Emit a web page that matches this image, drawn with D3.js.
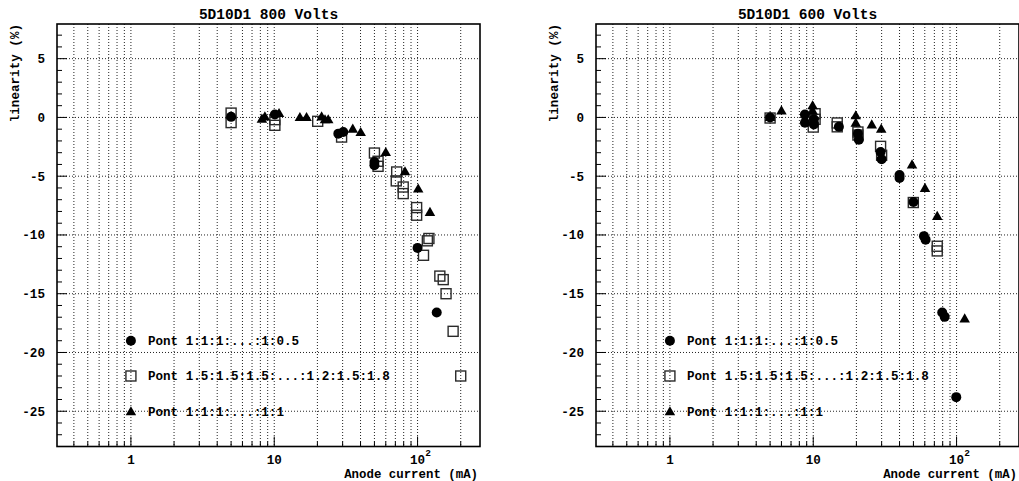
<!DOCTYPE html>
<html><head><meta charset="utf-8">
<script src="https://cdn.jsdelivr.net/npm/d3@7"></script>
<style>
body{margin:0;background:#fff;}
text{font-family:"Liberation Mono","DejaVu Sans Mono",monospace;font-weight:bold;fill:#000;}
</style></head>
<body><svg id="c" width="1019" height="481"></svg>
<script>
// ---- data ----
const seriesNames = ["Pont 1:1:1:...:1:0.5", "Pont 1.5:1.5:1.5:...:1.2:1.5:1.8", "Pont 1:1:1:...:1:1"];
const titles = ["5D10D1 800 Volts", "5D10D1 600 Volts"];
const yTicks = [5, 0, -5, -10, -15, -20, -25];
const xMajorTicks = [1, 10, 100];
const xMinorTicks = [0.4,0.5,0.6,0.7,0.8,0.9,2,3,4,5,6,7,8,9,20,30,40,50,60,70,80,90,200];
const legendY = [-19, -22, -25];
const legendX = 1;

// 800 V
const v800_circle_x = [5.0, 10.1, 28, 30.3, 50, 50, 100, 136];
const v800_circle_y = [0.05, 0.25, -1.38, -1.24, -3.8, -4.07, -11.1, -16.6];
const v800_square_x = [5.0, 5.0, 10.1, 10.1, 20.1, 29.5, 50, 53, 53, 71.5, 71, 79.4, 79.4, 98.5, 98.5, 120, 117, 110, 143, 151, 158, 177, 200];
const v800_square_y = [0.37, -0.44, -0.19, -0.67, -0.33, -1.67, -3.03, -3.73, -4.16, -4.64, -5.4, -5.92, -6.48, -7.67, -8.32, -10.3, -10.5, -11.73, -13.5, -13.8, -15.0, -18.2, -22.0];
const v800_tri_x = [8.2, 8.6, 10.8, 15.1, 16.8, 21.4, 22.6, 23.8, 35.3, 40.1, 60, 81.7, 101, 122];
const v800_tri_y = [-0.1, 0.09, 0.37, 0.04, 0.04, 0.09, -0.16, -0.16, -0.95, -1.24, -2.94, -4.58, -6.05, -8.04];

// 600 V
const v600_circle_x = [5.0, 8.75, 8.75, 10.1, 10.1, 15.1, 20.5, 20.8, 29.5, 30, 40, 40, 50, 59.2, 60.8, 79.4, 82.6, 99.5];
const v600_circle_y = [0.0, 0.24, -0.45, -0.16, -0.6, -0.8, -1.38, -1.9, -2.94, -3.56, -4.9, -5.15, -7.2, -10.1, -10.4, -16.6, -16.97, -23.8];
const v600_square_x = [5.0, 10.3, 10.3, 10.0, 14.7, 14.7, 20.5, 20.5, 29.5, 30, 49.9, 73.3, 73.3];
const v600_square_y = [-0.05, 0.32, -0.16, -0.82, -0.47, -0.8, -1.24, -1.5, -2.46, -3.22, -7.24, -10.96, -11.36];
const v600_tri_x = [5.0, 6.0, 9.9, 9.9, 19.8, 19.8, 25.6, 29.8, 48.9, 60.2, 73.3, 113.9];
const v600_tri_y = [0.05, 0.6, 1.03, 0.6, 0.18, -0.44, -0.59, -0.95, -4.0, -6.0, -8.38, -17.1];

const panelsData = [
  {title: titles[0], circle: [v800_circle_x, v800_circle_y], square: [v800_square_x, v800_square_y], tri: [v800_tri_x, v800_tri_y]},
  {title: titles[1], circle: [v600_circle_x, v600_circle_y], square: [v600_square_x, v600_square_y], tri: [v600_tri_x, v600_tri_y]}
];

// ---- layout ----
const svg = d3.select("#c");
const topY = 24, bottomY = 446.5;
const lefts = [57, 596], width = 423;
const fs = 12.6;

const zip = (xs, ys) => xs.map((x, i) => [x, ys[i]]);

panelsData.forEach((p, pi) => {
  const L = lefts[pi], R = L + width;
  const x = d3.scaleLog().domain([0.305, 272.6]).range([L, R]);
  const y = d3.scaleLinear().domain([-28, 7.95]).range([bottomY, topY]);
  const g = svg.append("g");

  // grid
  const allX = xMinorTicks.concat(xMajorTicks);
  g.append("g").selectAll("line").data(allX).join("line")
    .attr("x1", d => x(d)).attr("x2", d => x(d)).attr("y1", topY).attr("y2", bottomY)
    .attr("stroke", "#222").attr("stroke-width", 1).attr("stroke-dasharray", "1,2");
  g.append("g").selectAll("line").data(yTicks).join("line")
    .attr("x1", L).attr("x2", R).attr("y1", d => y(d)).attr("y2", d => y(d))
    .attr("stroke", "#222").attr("stroke-width", 1).attr("stroke-dasharray", "1,2");

  // x ticks (inward)
  g.append("g").selectAll("line").data(xMinorTicks).join("line")
    .attr("x1", d => x(d)).attr("x2", d => x(d)).attr("y1", bottomY).attr("y2", bottomY - 5)
    .attr("stroke", "#000").attr("stroke-width", 1);
  g.append("g").selectAll("line").data(xMajorTicks).join("line")
    .attr("x1", d => x(d)).attr("x2", d => x(d)).attr("y1", bottomY).attr("y2", bottomY - 10)
    .attr("stroke", "#000").attr("stroke-width", 1);
  // y ticks
  const yMinor = d3.range(-27, 8).filter(v => yTicks.indexOf(v) < 0);
  g.append("g").selectAll("line").data(yMinor).join("line")
    .attr("x1", L).attr("x2", L + 5).attr("y1", d => y(d)).attr("y2", d => y(d))
    .attr("stroke", "#000").attr("stroke-width", 1);
  g.append("g").selectAll("line").data(yTicks).join("line")
    .attr("x1", L).attr("x2", L + 10).attr("y1", d => y(d)).attr("y2", d => y(d))
    .attr("stroke", "#000").attr("stroke-width", 1);

  // frame
  g.append("rect").attr("x", L).attr("y", topY).attr("width", width).attr("height", bottomY - topY)
    .attr("fill", "none").attr("stroke", "#000").attr("stroke-width", 1.6);

  // y tick labels
  g.append("g").selectAll("text").data(yTicks).join("text")
    .attr("x", L - 12).attr("y", d => y(d) + 4.5).attr("text-anchor", "end")
    .attr("font-size", fs).text(d => d);
  // x tick labels
  const xl = g.append("g");
  xl.append("text").attr("x", x(1)).attr("y", 463.5).attr("text-anchor", "middle").attr("font-size", fs).text("1");
  xl.append("text").attr("x", x(10)).attr("y", 463.5).attr("text-anchor", "middle").attr("font-size", fs).text("10");
  const t100 = xl.append("text").attr("x", x(100) - 7.5).attr("y", 463.5).attr("font-size", fs);
  t100.append("tspan").text("10");
  t100.append("tspan").attr("dy", -8).attr("font-size", 9.5).text("2");

  // axis titles
  g.append("text").attr("x", R - 2).attr("y", 477.5).attr("text-anchor", "end").attr("font-size", 12.4).text("Anode current (mA)");
  g.append("text").attr("transform", `translate(${L - 38},${topY}) rotate(-90)`).attr("text-anchor", "end")
    .attr("font-size", fs).text("linearity (%)");
  // title
  g.append("text").attr("x", (L + R) / 2).attr("y", 19).attr("text-anchor", "middle").attr("font-size", 14.5).text(p.title);

  // markers
  const clip = "clip" + pi;
  svg.append("clipPath").attr("id", clip).append("rect").attr("x", L).attr("y", topY).attr("width", width).attr("height", bottomY - topY);
  const m = g.append("g").attr("clip-path", `url(#${clip})`);
  const triPath = d3.symbol().type(d3.symbolTriangle).size(48)();
  const drawSeries = (pts, kind) => {
    if (kind === 0) {
      m.append("g").selectAll("circle").data(pts).join("circle")
        .attr("cx", d => x(d[0])).attr("cy", d => y(d[1])).attr("r", 5).attr("fill", "#000");
    } else if (kind === 1) {
      m.append("g").selectAll("rect").data(pts).join("rect")
        .attr("x", d => x(d[0]) - 5).attr("y", d => y(d[1]) - 5).attr("width", 10).attr("height", 10)
        .attr("fill", "none").attr("stroke", "#2a2a2a").attr("stroke-width", 1.4);
    } else {
      m.append("g").selectAll("path").data(pts).join("path")
        .attr("d", triPath).attr("transform", d => `translate(${x(d[0])},${y(d[1]) + 1})`).attr("fill", "#000");
    }
  };
  drawSeries(zip(p.square[0], p.square[1]), 1);
  drawSeries(zip(p.circle[0], p.circle[1]), 0);
  drawSeries(zip(p.tri[0], p.tri[1]), 2);

  // legend (placed in data coordinates)
  seriesNames.forEach((name, i) => {
    const ly = y(legendY[i]);
    const lx = x(legendX);
    drawSeries([[legendX, legendY[i]]], i);
    g.append("text").attr("x", lx + 17).attr("y", ly + 4.5).attr("font-size", fs).text(name);
  });
});
</script></body></html>
